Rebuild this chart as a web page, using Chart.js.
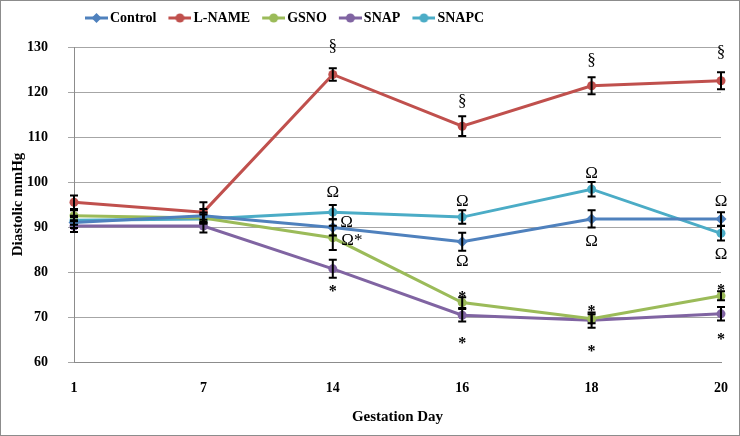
<!DOCTYPE html>
<html>
<head>
<meta charset="utf-8">
<script src="https://cdn.jsdelivr.net/npm/chart.js@4"></script>
<style>
  html, body { margin: 0; padding: 0; background: #fff; }
  #wrap { width: 740px; height: 436px; }
</style>
</head>
<body>
<div id="wrap"><canvas id="chart" width="740" height="436"></canvas></div>
<script>
const days = ['1', '7', '14', '16', '18', '20'];

const control = [91, 92.5, 89.9, 86.7, 91.8, 91.8];
const controlErr = [1.2, 1.5, 1.8, 2, 1.9, 1.5];
const lname = [95.5, 93.3, 123.9, 112.4, 121.4, 122.5];
const lnameErr = [1.5, 2.2, 1.4, 2.2, 1.9, 1.9];
const gsno = [92.5, 92, 87.6, 73.2, 69.6, 74.7];
const gsnoErr = [1.2, 1.2, 2.7, 1.2, 1, 1];
const snap = [90.2, 90.2, 80.7, 70.4, 69.3, 70.7];
const snapErr = [1.3, 1.4, 2, 1.4, 1.7, 1.5];
const snapc = [91.5, 91.8, 93.3, 92.2, 98.4, 88.6];
const snapcErr = [1, 1, 1.6, 1.5, 1.6, 1.6];

const yMin = 60, yMax = 130, yStep = 10;

// significance marks: [category index, y value, symbol]
const marks = [
  [2, 130.2, '§'], [3, 117.8, '§'], [4, 127.1, '§'], [5, 128.7, '§'],
  [2, 97.6, 'Ω'], [2.106, 91.1, 'Ω'], [2.147, 87, 'Ω*'],
  [3, 95.6, 'Ω'], [3, 82.3, 'Ω'], [4, 101.9, 'Ω'], [4, 86.7, 'Ω'],
  [5, 95.6, 'Ω'], [5, 83.8, 'Ω'],
  [2, 76.2, '*'], [3, 74.9, '*'], [3, 64.7, '*'], [4, 71.8, '*'],
  [4, 63, '*'], [5, 76.4, '*'], [5, 65.5, '*'],
];

const serif = 'Liberation Serif';

function legendIcon(color, style) {
  // transparent margin on the left, then a short line with the marker
  const c = document.createElement('canvas');
  c.width = 29; c.height = 12;
  const g = c.getContext('2d');
  g.strokeStyle = color; g.lineWidth = 3;
  g.beginPath(); g.moveTo(6, 6); g.lineTo(29, 6); g.stroke();
  g.fillStyle = color;
  g.beginPath();
  if (style === 'rectRot') {
    g.moveTo(17.5, 1); g.lineTo(22.5, 6); g.lineTo(17.5, 11); g.lineTo(12.5, 6);
  } else {
    g.arc(17.5, 6, 4.5, 0, Math.PI * 2);
  }
  g.closePath(); g.fill();
  return c;
}

function series(label, data, err, color, style, radius) {
  return {
    label, data, err,
    borderColor: color, backgroundColor: color,
    borderWidth: 3, pointStyle: style, pointRadius: radius,
    pointBorderWidth: 0, pointHoverRadius: radius,
    tension: 0, clip: false,
    icon: legendIcon(color, style),
  };
}

const errorBars = {
  id: 'errorBars',
  afterDatasetsDraw(chart) {
    const { ctx, scales: { x, y } } = chart;
    ctx.save();
    ctx.strokeStyle = '#000';
    ctx.lineWidth = 2;
    chart.data.datasets.forEach(ds => {
      ds.data.forEach((v, i) => {
        const px = x.getPixelForValue(i);
        const top = y.getPixelForValue(v + ds.err[i]);
        const bot = y.getPixelForValue(v - ds.err[i]);
        ctx.beginPath();
        ctx.moveTo(px, top); ctx.lineTo(px, bot);
        ctx.moveTo(px - 4, top); ctx.lineTo(px + 4, top);
        ctx.moveTo(px - 4, bot); ctx.lineTo(px + 4, bot);
        ctx.stroke();
      });
    });
    ctx.restore();
  }
};

// legend sits left of centre in the original, and close to the top edge
const legendPlace = {
  id: 'legendPlace',
  beforeDraw(chart) {
    chart.legend.left = 73;
    chart.legend.top = 0;
  }
};

const symbols = {
  id: 'symbols',
  afterDraw(chart) {
    const { ctx, scales: { x, y } } = chart;
    ctx.save();
    ctx.fillStyle = '#000';
    ctx.textAlign = 'center';
    ctx.textBaseline = 'middle';
    marks.forEach(([i, v, t]) => {
      const px = x.getPixelForValue(i);
      const py = y.getPixelForValue(v);
      if (t === '*') {
        ctx.font = 'bold 16px ' + serif;
        ctx.fillText(t, px, py + 3);
      } else {
        ctx.font = '17px ' + serif;
        ctx.fillText(t, px, py);
      }
    });
    // outer frame
    ctx.strokeStyle = '#8c8c8c';
    ctx.lineWidth = 1;
    ctx.strokeRect(0.5, 0.5, chart.width - 1, chart.height - 1);
    ctx.restore();
  }
};

new Chart(document.getElementById('chart'), {
  type: 'line',
  data: {
    labels: days,
    datasets: [
      series('Control', control, controlErr, '#4F81BD', 'rectRot', 5.5),
      series('L-NAME', lname, lnameErr, '#C0504D', 'circle', 4.5),
      series('GSNO', gsno, gsnoErr, '#9BBB59', 'circle', 4.5),
      series('SNAP', snap, snapErr, '#8064A2', 'circle', 4.5),
      series('SNAPC', snapc, snapcErr, '#4BACC6', 'circle', 4.5),
    ],
  },
  options: {
    responsive: false,
    animation: false,
    layout: { padding: { left: 0, right: 19, top: 12, bottom: 0 } },
    plugins: {
      tooltip: { enabled: false },
      legend: {
        position: 'top',
        align: 'start',
        labels: {
          usePointStyle: true,
          pointStyleWidth: 19,
          padding: 11,
          color: '#000',
          font: { family: serif, size: 14, weight: 'bold' },
          generateLabels(chart) {
            return chart.data.datasets.map((ds, i) => ({
              text: ds.label, pointStyle: ds.icon, datasetIndex: i,
              fontColor: '#000', lineWidth: 0, strokeStyle: 'transparent',
            }));
          },
        },
      },
    },
    scales: {
      x: {
        offset: false,
        grid: { display: false },
        border: { display: true, color: '#8c8c8c', width: 1 },
        ticks: { color: '#000', font: { family: serif, size: 14, weight: 'bold' }, padding: 10 },
        title: { display: true, text: 'Gestation Day', color: '#000', font: { family: serif, size: 15, weight: 'bold' }, padding: { top: 4, bottom: 10 } },
        afterFit(s) { s.height = 74; },
      },
      y: {
        min: yMin, max: yMax,
        ticks: { stepSize: yStep, color: '#000', font: { family: serif, size: 14, weight: 'bold' }, padding: 20 },
        grid: { color: '#a6a6a6', lineWidth: 1, drawTicks: true, tickLength: 6 },
        border: { display: true, color: '#8c8c8c', width: 1 },
        title: { display: true, text: 'Diastolic mmHg', color: '#000', font: { family: serif, size: 15, weight: 'bold' }, padding: { top: 9, bottom: 0 } },
        afterFit(s) { s.width = 74; },
      },
    },
  },
  plugins: [errorBars, legendPlace, symbols],
});
</script>
</body>
</html>
